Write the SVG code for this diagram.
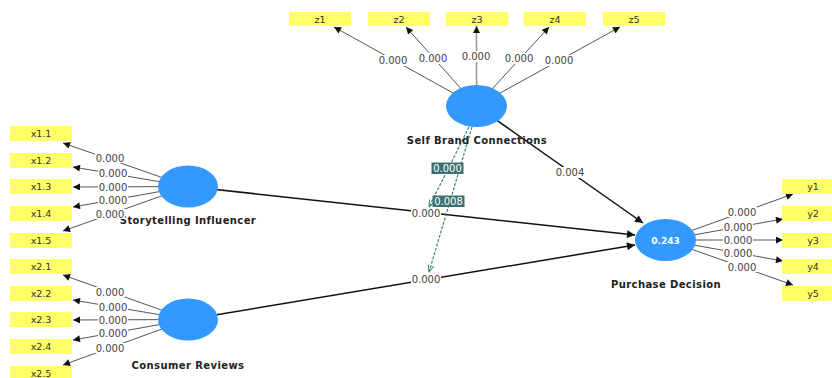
<svg xmlns="http://www.w3.org/2000/svg" width="832" height="378" viewBox="0 0 832 378">
  <style>
    .ind rect { fill: #ffff66; }
    .ind text { font-family: "DejaVu Sans", sans-serif; font-size: 9.5px; fill: #333; text-anchor: middle; }
    .lv ellipse { fill: #3399ff; }
    .lv text.name { font-family: "DejaVu Sans", sans-serif; font-weight: bold; font-size: 10px; letter-spacing: 0.4px; fill: #222; text-anchor: middle; }
    .lv text.r2 { font-family: "DejaVu Sans", sans-serif; font-weight: bold; font-size: 9px; fill: #fff; text-anchor: middle; }
    .outer { stroke: #555; stroke-width: 1; fill: none; marker-end: url(#head-s); }
    .inner { stroke: #111; stroke-width: 1.5; fill: none; marker-end: url(#head-l); }
    .mod { stroke: #3d8080; stroke-width: 1.2; stroke-dasharray: 3 1.5; fill: none; marker-end: url(#head-open); }
    .lbl rect { fill: #fff; }
    .lbl text { font-family: "DejaVu Sans", sans-serif; font-size: 10px; fill: #444; text-anchor: middle; }
    .mlbl rect { fill: #3d7070; }
    .mlbl text { font-family: "DejaVu Sans", sans-serif; font-size: 10px; fill: #fff; text-anchor: middle; }
  </style>
  <defs>
    <marker id="head-s" viewBox="0 0 10 10" refX="10" refY="5" markerWidth="9" markerHeight="7" markerUnits="userSpaceOnUse" orient="auto">
      <path d="M0,0 L10,5 L0,10 z" fill="#111"/>
    </marker>
    <marker id="head-l" viewBox="0 0 10 10" refX="10" refY="5" markerWidth="11" markerHeight="8" markerUnits="userSpaceOnUse" orient="auto">
      <path d="M0,0 L10,5 L0,10 z" fill="#111"/>
    </marker>
    <marker id="head-open" viewBox="0 0 10 10" refX="10" refY="5" markerWidth="8" markerHeight="7" markerUnits="userSpaceOnUse" orient="auto">
      <path d="M0,1 L10,5 L0,9" fill="none" stroke="#3d8080" stroke-width="1.5"/>
    </marker>
  </defs>
  <rect width="832" height="378" fill="#fff"/>

  <!-- connector lines -->
  <g id="connectors">
    <!-- Self Brand Connections indicators -->
    <line class="outer" x1="476.5" y1="106" x2="334" y2="27"/>
    <line class="outer" x1="476.5" y1="106" x2="406" y2="27"/>
    <line class="outer" x1="476.5" y1="106" x2="476.5" y2="26" style="stroke:#999;stroke-width:1.6"/>
    <line class="outer" x1="476.5" y1="106" x2="549" y2="27"/>
    <line class="outer" x1="476.5" y1="106" x2="620" y2="27"/>
    <!-- Storytelling Influencer indicators -->
    <line class="outer" x1="188" y1="186.5" x2="63" y2="143"/>
    <line class="outer" x1="188" y1="186.5" x2="73" y2="167"/>
    <line class="outer" x1="188" y1="186.5" x2="73" y2="187"/>
    <line class="outer" x1="188" y1="186.5" x2="73" y2="207"/>
    <line class="outer" x1="188" y1="186.5" x2="63" y2="231"/>
    <!-- Consumer Reviews indicators -->
    <line class="outer" x1="188" y1="319.5" x2="63" y2="275"/>
    <line class="outer" x1="188" y1="319.5" x2="73" y2="300"/>
    <line class="outer" x1="188" y1="319.5" x2="73" y2="320"/>
    <line class="outer" x1="188" y1="319.5" x2="73" y2="340"/>
    <line class="outer" x1="188" y1="319.5" x2="63" y2="365"/>
    <!-- Purchase Decision indicators -->
    <line class="outer" x1="665.5" y1="240" x2="793" y2="194"/>
    <line class="outer" x1="665.5" y1="240" x2="783" y2="219"/>
    <line class="outer" x1="665.5" y1="240" x2="783" y2="240"/>
    <line class="outer" x1="665.5" y1="240" x2="783" y2="261"/>
    <line class="outer" x1="665.5" y1="240" x2="793" y2="285"/>
    <!-- structural paths -->
    <line class="inner" x1="188" y1="186.5" x2="635" y2="235"/>
    <line class="inner" x1="188" y1="319.5" x2="635" y2="245"/>
    <line class="inner" x1="476.5" y1="106" x2="643" y2="223"/>
    <!-- moderating effects -->
    <line class="mod" x1="469" y1="127" x2="429" y2="207"/>
    <line class="mod" x1="472" y1="127" x2="429" y2="272"/>
  </g>

  <!-- indicators -->
  <g id="z1" class="ind"><rect x="289" y="12" width="62" height="14"/><text x="320" y="22.5">z1</text></g>
  <g id="z2" class="ind"><rect x="368" y="12" width="62" height="14"/><text x="399" y="22.5">z2</text></g>
  <g id="z3" class="ind"><rect x="446" y="12" width="62" height="14"/><text x="477" y="22.5">z3</text></g>
  <g id="z4" class="ind"><rect x="524" y="12" width="62" height="14"/><text x="555" y="22.5">z4</text></g>
  <g id="z5" class="ind"><rect x="603" y="12" width="62" height="14"/><text x="634" y="22.5">z5</text></g>

  <g id="x1_1" class="ind"><rect x="10" y="126" width="62" height="15"/><text x="41" y="137">x1.1</text></g>
  <g id="x1_2" class="ind"><rect x="10" y="153" width="62" height="15"/><text x="41" y="164">x1.2</text></g>
  <g id="x1_3" class="ind"><rect x="10" y="179" width="62" height="15"/><text x="41" y="190">x1.3</text></g>
  <g id="x1_4" class="ind"><rect x="10" y="206" width="62" height="15"/><text x="41" y="217">x1.4</text></g>
  <g id="x1_5" class="ind"><rect x="10" y="233" width="62" height="15"/><text x="41" y="244">x1.5</text></g>

  <g id="x2_1" class="ind"><rect x="10" y="259" width="62" height="15"/><text x="41" y="270">x2.1</text></g>
  <g id="x2_2" class="ind"><rect x="10" y="286" width="62" height="15"/><text x="41" y="297">x2.2</text></g>
  <g id="x2_3" class="ind"><rect x="10" y="312" width="62" height="15"/><text x="41" y="323">x2.3</text></g>
  <g id="x2_4" class="ind"><rect x="10" y="339" width="62" height="15"/><text x="41" y="350">x2.4</text></g>
  <g id="x2_5" class="ind"><rect x="10" y="366" width="62" height="15"/><text x="41" y="377">x2.5</text></g>

  <g id="y1" class="ind"><rect x="782" y="179" width="62" height="15"/><text x="813" y="190">y1</text></g>
  <g id="y2" class="ind"><rect x="782" y="206" width="62" height="15"/><text x="813" y="217">y2</text></g>
  <g id="y3" class="ind"><rect x="782" y="233" width="62" height="15"/><text x="813" y="244">y3</text></g>
  <g id="y4" class="ind"><rect x="782" y="259" width="62" height="15"/><text x="813" y="270">y4</text></g>
  <g id="y5" class="ind"><rect x="782" y="286" width="62" height="15"/><text x="813" y="297">y5</text></g>

  <!-- latent variables -->
  <g id="self-brand-connections" class="lv">
    <ellipse cx="476.5" cy="106" rx="30.5" ry="21"/>
    <text class="name" x="477" y="144">Self Brand Connections</text>
  </g>
  <g id="storytelling-influencer" class="lv">
    <ellipse cx="188" cy="186.5" rx="30" ry="21"/>
    <text class="name" x="188" y="224">Storytelling Influencer</text>
  </g>
  <g id="consumer-reviews" class="lv">
    <ellipse cx="188" cy="319.5" rx="30" ry="21"/>
    <text class="name" x="188" y="369">Consumer Reviews</text>
  </g>
  <g id="purchase-decision" class="lv">
    <ellipse cx="665.5" cy="240" rx="30.5" ry="21"/>
    <text class="r2" x="665.5" y="243.5">0.243</text>
    <text class="name" x="666" y="288">Purchase Decision</text>
  </g>

  <!-- path coefficient labels -->
  <g id="connector-labels">
    <g class="lbl"><rect x="378" y="55" width="30" height="11"/><text x="393" y="63.5">0.000</text></g>
    <g class="lbl"><rect x="418" y="53" width="30" height="11"/><text x="433" y="61.5">0.000</text></g>
    <g class="lbl"><rect x="461" y="51" width="30" height="11"/><text x="476" y="59.5">0.000</text></g>
    <g class="lbl"><rect x="504" y="53" width="30" height="11"/><text x="519" y="61.5">0.000</text></g>
    <g class="lbl"><rect x="544" y="55" width="30" height="11"/><text x="559" y="63.5">0.000</text></g>

    <g class="lbl"><rect x="95" y="153" width="30" height="10"/><text x="110" y="161.5">0.000</text></g>
    <g class="lbl"><rect x="98" y="168" width="30" height="10"/><text x="113" y="176.5">0.000</text></g>
    <g class="lbl"><rect x="98" y="182" width="30" height="10"/><text x="113" y="190.5">0.000</text></g>
    <g class="lbl"><rect x="98" y="195" width="30" height="10"/><text x="113" y="203.5">0.000</text></g>
    <g class="lbl"><rect x="95" y="209" width="30" height="10"/><text x="110" y="217.5">0.000</text></g>

    <g class="lbl"><rect x="95" y="287" width="30" height="10"/><text x="110" y="295.5">0.000</text></g>
    <g class="lbl"><rect x="98" y="302" width="30" height="10"/><text x="113" y="310.5">0.000</text></g>
    <g class="lbl"><rect x="98" y="315" width="30" height="10"/><text x="113" y="323.5">0.000</text></g>
    <g class="lbl"><rect x="98" y="328" width="30" height="10"/><text x="113" y="336.5">0.000</text></g>
    <g class="lbl"><rect x="95" y="343" width="30" height="10"/><text x="110" y="351.5">0.000</text></g>

    <g class="lbl"><rect x="727" y="207" width="30" height="10"/><text x="742" y="215.5">0.000</text></g>
    <g class="lbl"><rect x="723" y="222" width="30" height="10"/><text x="738" y="230.5">0.000</text></g>
    <g class="lbl"><rect x="723" y="235" width="30" height="10"/><text x="738" y="243.5">0.000</text></g>
    <g class="lbl"><rect x="723" y="248" width="30" height="10"/><text x="738" y="256.5">0.000</text></g>
    <g class="lbl"><rect x="727" y="262" width="30" height="10"/><text x="742" y="270.5">0.000</text></g>

    <g class="lbl"><rect x="411" y="208" width="30" height="10"/><text x="426" y="216.5">0.000</text></g>
    <g class="lbl"><rect x="411" y="274" width="30" height="11"/><text x="426" y="282.5">0.000</text></g>
    <g class="lbl"><rect x="555" y="167" width="30" height="11"/><text x="570" y="175.5">0.004</text></g>

    <g class="mlbl"><rect x="431.5" y="162.5" width="32" height="11.5"/><text x="447.5" y="171.5">0.000</text></g>
    <g class="mlbl"><rect x="432.5" y="195.5" width="32" height="11.5"/><text x="448.5" y="204.5">0.008</text></g>
  </g>
</svg>
